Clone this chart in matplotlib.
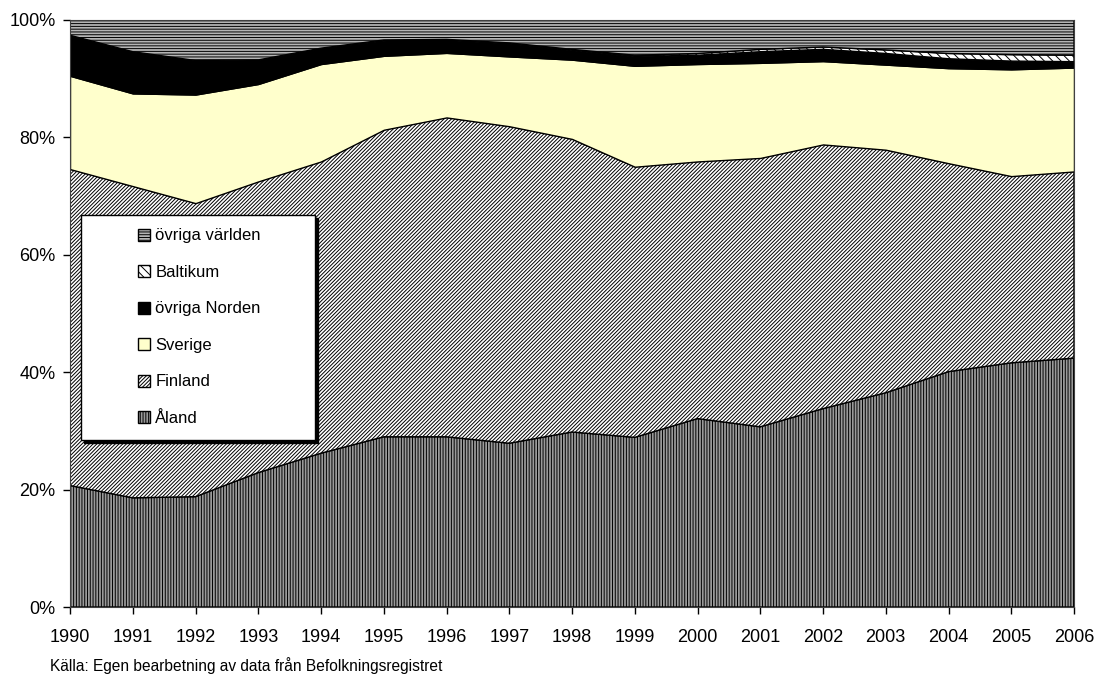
import numpy as np
import matplotlib
matplotlib.use('Agg')
import matplotlib.pyplot as plt
from matplotlib.patches import Rectangle

plt.rcParams['font.family'] = ['Liberation Sans', 'DejaVu Sans']
plt.rcParams['hatch.linewidth'] = 0.7

years = list(range(1990, 2007))

# andel i procent, läst ur diagrammet
aland = [20.7, 18.6, 18.8, 22.9, 26.2, 29.0, 29.0, 27.9, 29.8, 28.9, 32.1, 30.7, 33.8, 36.5, 40.1, 41.6, 42.4]
finland = [53.9, 53.1, 50.0, 49.6, 49.7, 52.3, 54.4, 54.0, 49.9, 46.1, 43.8, 45.8, 45.0, 41.4, 35.5, 31.8, 31.8]
sverige = [15.9, 15.8, 18.5, 16.6, 16.6, 12.6, 11.0, 11.9, 13.5, 17.2, 16.6, 16.2, 14.2, 14.5, 16.2, 18.2, 17.7]
ovriga_norden = [6.9, 7.1, 5.8, 4.1, 2.7, 2.6, 2.2, 2.2, 1.6, 1.6, 1.5, 1.9, 2.0, 1.9, 1.6, 1.4, 1.0]
baltikum = [0.0, 0.0, 0.0, 0.0, 0.0, 0.1, 0.1, 0.1, 0.15, 0.2, 0.3, 0.4, 0.4, 0.6, 0.9, 1.1, 1.1]
ovriga_varlden = [2.6, 5.4, 6.9, 6.8, 4.8, 3.4, 3.3, 3.9, 5.0, 6.0, 5.7, 5.0, 4.6, 5.1, 5.7, 5.9, 6.0]

labels = ['Åland', 'Finland', 'Sverige', 'övriga Norden', 'Baltikum', 'övriga världen']
series = [aland, finland, sverige, ovriga_norden, baltikum, ovriga_varlden]
styles = [
    ('#9a9a9a', '||||||'),
    ('white', '/////////'),
    ('#ffffcc', None),
    ('black', None),
    ('white', '\\\\\\\\'),
    ('#b4b4b4', '------'),
]

data = np.array(series, dtype=float)
data = data / data.sum(axis=0) * 100
tops = np.cumsum(data, axis=0)

fig = plt.figure(figsize=(10.98, 6.75), dpi=100)
ax = fig.add_axes([70 / 1098, 1 - 607 / 675, 1004 / 1098, 587 / 675])

handles = []
bottom = np.zeros(len(years))
for i, (lab, (fc, hatch)) in enumerate(zip(labels, styles)):
    h = ax.fill_between(years, bottom, tops[i], facecolor=fc, hatch=hatch,
                        edgecolor='black', linewidth=1.0, label=lab, zorder=2)
    handles.append(h)
    bottom = tops[i]

ax.set_xlim(1990, 2006)
ax.set_ylim(0, 100)
ax.set_xticks(years)
ax.set_xticklabels([str(y) for y in years])
ax.set_yticks([0, 20, 40, 60, 80, 100])
ax.set_yticklabels(['0%', '20%', '40%', '60%', '80%', '100%'])
ax.tick_params(axis='both', direction='out', length=5, width=1, labelsize=13, color='black')
ax.tick_params(axis='x', pad=10.5)
ax.tick_params(axis='y', pad=5.5)
for side in ['left', 'bottom', 'top', 'right']:
    ax.spines[side].set_color('#404040')
    ax.spines[side].set_zorder(3)

# legendruta med skugga
box_x, box_y, box_w, box_h = 0.011, 0.2845, 0.233, 0.383
ax.add_patch(Rectangle((box_x + 0.003, box_y - 0.005), box_w, box_h, transform=ax.transAxes,
                       facecolor='black', edgecolor='black', zorder=5))
ax.add_patch(Rectangle((box_x, box_y), box_w, box_h, transform=ax.transAxes,
                       facecolor='white', edgecolor='black', linewidth=1.0, zorder=6))

leg = ax.legend(handles[::-1], labels[::-1], loc='upper left',
                bbox_to_anchor=(0.0677, 0.645), frameon=False, fontsize=12,
                borderaxespad=0, borderpad=0, handlelength=0.73, handleheight=0.73,
                handletextpad=0.31, labelspacing=1.29)
leg.set_zorder(7)

fig.text(50 / 1098, 1 - 666 / 675, 'Källa: Egen bearbetning av data från Befolkningsregistret',
         fontsize=11.2, ha='left', va='center')

fig.savefig('out.png', dpi=100)
